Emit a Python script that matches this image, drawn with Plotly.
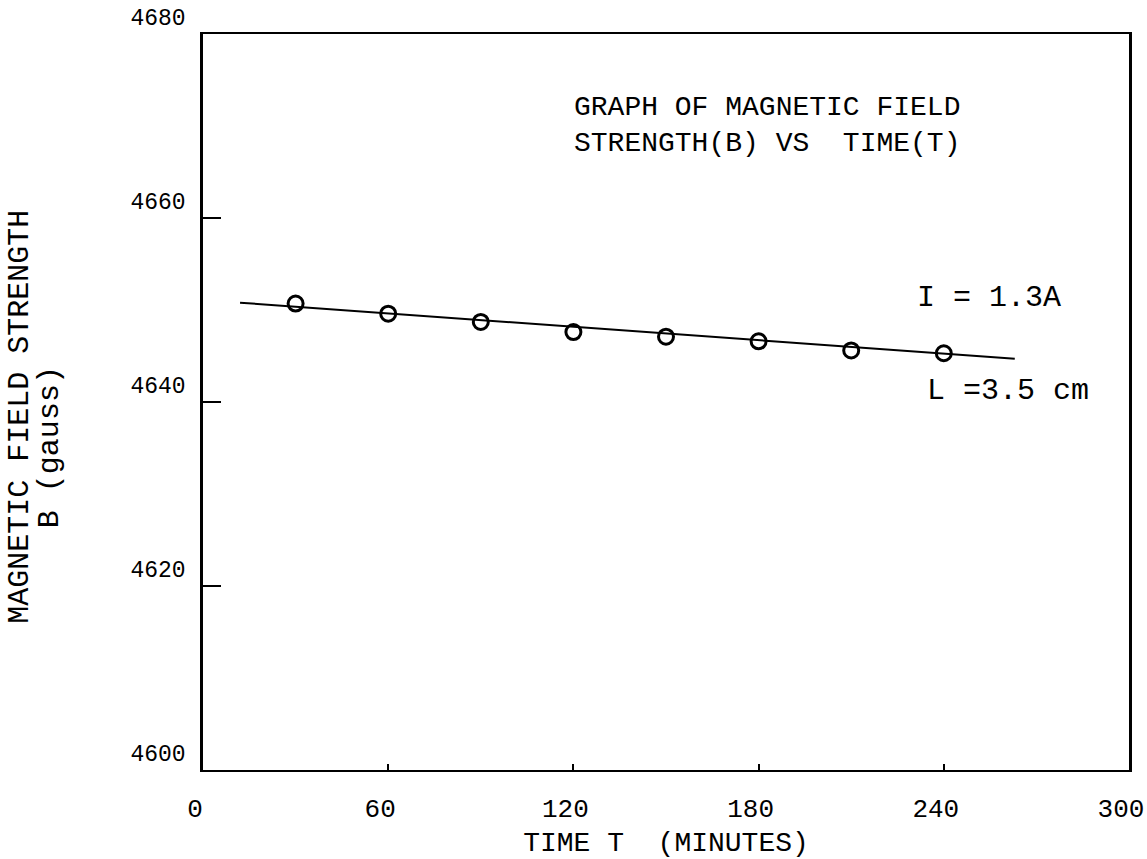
import plotly.graph_objects as go

# Data
time_min = [30, 60, 90, 120, 150, 180, 210, 240]
field_gauss = [4650.7, 4649.6, 4648.7, 4647.6, 4647.1, 4646.6, 4645.6, 4645.3]

# Hand-drawn best-fit line (endpoints)
fit_x = [12, 263]
fit_y = [4650.8, 4644.7]

x_ticks = [0, 60, 120, 180, 240, 300]
y_ticks = [4600, 4620, 4640, 4660, 4680]

FONT = "Liberation Mono, Courier New, monospace"

fig = go.Figure()
fig.add_trace(go.Scatter(x=fit_x, y=fit_y, mode="lines",
                         line=dict(color="black", width=2), showlegend=False))
fig.add_trace(go.Scatter(x=time_min, y=field_gauss, mode="markers",
                         marker=dict(symbol="circle-open", size=15, color="black",
                                     line=dict(width=3, color="black")),
                         showlegend=False))

fig.update_layout(
    width=1147, height=859,
    margin=dict(l=203, r=18, t=34, b=89),
    paper_bgcolor="white", plot_bgcolor="white",
    font=dict(family=FONT, color="black", size=27),
    xaxis=dict(range=[0, 300], tickvals=x_ticks, ticktext=[str(v) for v in x_ticks],
               showgrid=False, zeroline=False, showline=True, mirror=True,
               linecolor="black", linewidth=2, ticks="inside", ticklen=6,
               tickcolor="black", tickwidth=2, ticklabelstandoff=14,
               ticklabelshift=-8, ticklabeloverflow="allow", automargin=False,
               tickfont=dict(size=26, family=FONT),
               title=dict(text="TIME T\u00a0\u00a0(MINUTES)", font=dict(size=28, family=FONT),
                          standoff=14)),
    yaxis=dict(range=[4600, 4680], tickvals=y_ticks, ticktext=[str(v) for v in y_ticks],
               showgrid=False, zeroline=False, showline=True, mirror=True,
               linecolor="black", linewidth=2.5, ticks="inside", ticklen=18,
               tickcolor="black", tickwidth=2, ticklabelposition="outside top",
               ticklabelstandoff=10, automargin=False,
               ticklabeloverflow="allow",
               tickfont=dict(size=23, family=FONT)),
)

ann = dict(xref="paper", yref="paper", showarrow=False,
           font=dict(family=FONT, size=30, color="black"))
fig.add_annotation(text="GRAPH OF MAGNETIC FIELD<br>STRENGTH(B) VS\u00a0\u00a0TIME(T)",
                   x=0.3985, y=0.876, align="left",
                   xanchor="left", yanchor="middle",
                   **{**ann, "font": dict(family=FONT, size=28, color="black")})
fig.add_annotation(text="I = 1.3A", x=0.769, y=0.6417,
                   xanchor="left", yanchor="middle", **ann)
fig.add_annotation(text="L =3.5 cm", x=0.7797, y=0.515,
                   xanchor="left", yanchor="middle", **ann)
fig.add_annotation(text="MAGNETIC FIELD STRENGTH", x=-0.1976, y=0.480, textangle=-90,
                   xanchor="center", yanchor="middle", **ann)
fig.add_annotation(text="B (gauss)", x=-0.1652, y=0.4387, textangle=-90,
                   xanchor="center", yanchor="middle", **ann)

fig.write_html("out.html")
